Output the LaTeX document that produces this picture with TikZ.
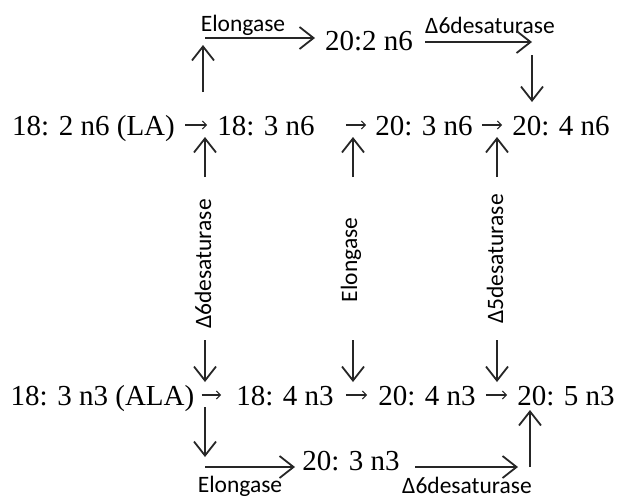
\documentclass[tikz,border=0pt]{standalone}
\usepackage{fontspec}
\setmainfont{Liberation Serif}
\newfontfamily\labfont{Carlito}
\usetikzlibrary{arrows.meta}
\begin{document}
\begin{tikzpicture}[x=1pt,y=-1pt,
  chem/.style={font=\fontsize{29}{33}\selectfont, inner sep=0pt, text height=26pt, text depth=6pt, anchor=base},
  lab/.style={font=\labfont\fontsize{23.5}{27}\selectfont, inner sep=0pt},
  arr/.style={line width=1.8pt, draw=black!85, -{Straight Barb[length=14pt,width=22pt,line width=1.8pt]}},
  rowarr/.style={line width=1.1pt, draw=black!85, -{Straight Barb[length=4pt,width=8pt,line width=1.1pt]}}]
\fill[white] (0,0) rectangle (618,499);
\useasboundingbox (0,0) rectangle (618,499);
% n6 row
\node[chem] (la) at (93.5,135) {18: 2 n6 (LA)};
\node[chem] (n183) at (266,135) {18: 3 n6};
\node[chem] (n203) at (424,135) {20: 3 n6};
\node[chem] (n204) at (561,135) {20: 4 n6};
% n3 row
\node[chem] (ala) at (102.5,405) {18: 3 n3 (ALA)};
\node[chem] (n184) at (285,405) {18: 4 n3};
\node[chem] (n204b) at (427,405) {20: 4 n3};
\node[chem] (n205) at (566,405) {20: 5 n3};
% top branch
\node[chem] (n202) at (369,50) {20:2 n6};
\node[lab, anchor=base] (elt) at (243,31) {Elongase};
\node[lab, anchor=base] (d6t) at (490,33) {Δ6desaturase};
% bottom branch
\node[chem] (n203b) at (351,470) {20: 3 n3};
\node[lab, anchor=base] (elb) at (240,492) {Elongase};
\node[lab, anchor=base] (d6b) at (467,493) {Δ6desaturase};
% vertical labels
\node[lab, rotate=90] (d6v) at (203,264) {Δ6desaturase};
\node[lab, rotate=90] (elv) at (351,260) {Elongase};
\node[lab, rotate=90] (d5v) at (495,259) {Δ5desaturase};
% row arrows
\draw[rowarr, shorten <=10pt, shorten >=10pt] (la.east) -- (n183.west);
\draw[rowarr, shorten <=31pt, shorten >=9pt] (n183.east) -- (n203.west);
\draw[rowarr, shorten <=9pt, shorten >=10pt] (n203.east) -- (n204.west);
\draw[rowarr, shorten <=7pt, shorten >=15pt] (ala.east) -- (n184.west);
\draw[rowarr, shorten <=12pt, shorten >=11pt] (n184.east) -- (n204b.west);
\draw[rowarr, shorten <=10pt, shorten >=10pt] (n204b.east) -- (n205.west);
% arrow end points
\coordinate (u1s) at (203,92);  \coordinate (u1e) at (203,45);
\coordinate (h1s) at (205,38);  \coordinate (h1e) at (315,38);
\coordinate (h2s) at (425,42);  \coordinate (h2e) at (532,42);
\coordinate (d1s) at (532,55);  \coordinate (d1e) at (532,102);
\coordinate (m1s) at (205,177); \coordinate (m1e) at (205,137);
\coordinate (m2s) at (353,177); \coordinate (m2e) at (353,137);
\coordinate (m3s) at (497,177); \coordinate (m3e) at (497,137);
\coordinate (m4s) at (205,340); \coordinate (m4e) at (205,382);
\coordinate (m5s) at (353,340); \coordinate (m5e) at (353,382);
\coordinate (m6s) at (497,340); \coordinate (m6e) at (497,382);
\coordinate (l1s) at (205,407); \coordinate (l1e) at (205,457);
\coordinate (l2s) at (205,467); \coordinate (l2e) at (295,467);
\coordinate (l3s) at (415,467); \coordinate (l3e) at (518,467);
\coordinate (l4s) at (530,467); \coordinate (l4e) at (530,410);
% arrows
\draw[arr] (u1s) -- (u1e);
\draw[arr] (h1s) -- (h1e);
\draw[arr] (h2s) -- (h2e);
\draw[arr] (d1s) -- (d1e);
\draw[arr] (m1s) -- (m1e);
\draw[arr] (m2s) -- (m2e);
\draw[arr] (m3s) -- (m3e);
\draw[arr] (m4s) -- (m4e);
\draw[arr] (m5s) -- (m5e);
\draw[arr] (m6s) -- (m6e);
\draw[arr] (l1s) -- (l1e);
\draw[arr] (l2s) -- (l2e);
\draw[arr] (l3s) -- (l3e);
\draw[arr] (l4s) -- (l4e);
\end{tikzpicture}
\end{document}
